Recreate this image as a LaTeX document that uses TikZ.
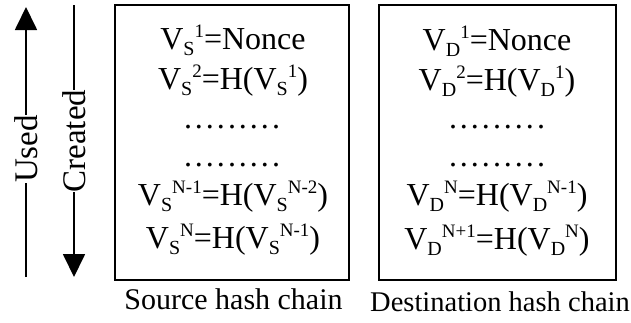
\documentclass[tikz,border=0pt]{standalone}
\usepackage{fontspec}
\setmainfont{Liberation Serif}
\usepackage{tikz}
\usetikzlibrary{arrows.meta,positioning}

% hash value V with a lowered index and a raised step number
\newcommand{\lowidx}[1]{\lower6pt\hbox{\fontsize{20}{20}\selectfont #1}}
\newcommand{\upidx}[1]{\raise12pt\hbox{\fontsize{19}{19}\selectfont #1}}
\newcommand{\hval}[2]{V\lowidx{#1}\upidx{#2}}
\newcommand{\dotrow}{.\kern3pt.\kern3pt.\kern3pt.\kern3pt.\kern3pt.\kern3pt.\kern3pt.\kern3pt.}

\begin{document}
\begin{tikzpicture}[x=1pt,y=-1pt,
  chainbox/.style={draw,line width=1.8pt,inner sep=0pt},
  ln/.style={anchor=base,inner sep=0pt,font=\fontsize{32}{36}\selectfont},
  chaincap/.style={anchor=base,inner sep=0pt,font=\fontsize{30}{34}\selectfont},
  flow/.style={line width=1.8pt,-{Triangle[length=23pt,width=22pt]}},
  axlab/.style={rotate=90,fill=white,inner xsep=0pt,inner ysep=2pt,
                font=\fontsize{33}{36}\selectfont},
]
\useasboundingbox (0,0) rectangle (631,322);
% ============ direction arrows ============
\coordinate (usedbot) at (26,277);
\coordinate (usedtop) at (26,7);
\draw[flow] (usedbot) -- node[axlab,pos=.474] (used) {Used} (usedtop);
\coordinate (crtop) at (74,5);
\coordinate (crbot) at (74,277);
\draw[flow] (crtop) -- node[axlab,pos=.5] (created) {Created} (crbot);
% ============ source chain ============
\node[chainbox,minimum width=234pt,minimum height=275pt] (src) at (232,142.5) {};
\node[ln] (s1) at (233,49)  {\hval{S}{1}=Nonce};
\node[ln] (s2) at (233,89)  {\hval{S}{2}=H(\hval{S}{1})};
\node[ln] (s3) at (232,128) {\dotrow};
\node[ln] (s4) at (232,166) {\dotrow};
\node[ln] (s5) at (233,205) {\hval{S}{N-1}=H(\hval{S}{N-2})};
\node[ln] (s6) at (233,248) {\hval{S}{N}=H(\hval{S}{N-1})};
\node[chaincap] (srccap) at ([xshift=1.5pt,yshift=-29pt]src.south) {Source hash chain};
% ============ destination chain ============
\node[chainbox,minimum width=237pt,minimum height=275pt] (dst) at (497.5,142.5) {};
\node[ln] (d1) at (497,50)  {\hval{D}{1}=Nonce};
\node[ln] (d2) at (497,90)  {\hval{D}{2}=H(\hval{D}{1})};
\node[ln] (d3) at (497,128) {\dotrow};
\node[ln] (d4) at (497,166) {\dotrow};
\node[ln] (d5) at (497,205) {\hval{D}{N}=H(\hval{D}{N-1})};
\node[ln] (d6) at (497,249) {\hval{D}{N+1}=H(\hval{D}{N})};
\node[chaincap,font=\fontsize{28.5}{32}\selectfont] (dstcap)
  at ([xshift=2.5pt,yshift=-31pt]dst.south) {Destination hash chain};
\end{tikzpicture}
\end{document}
